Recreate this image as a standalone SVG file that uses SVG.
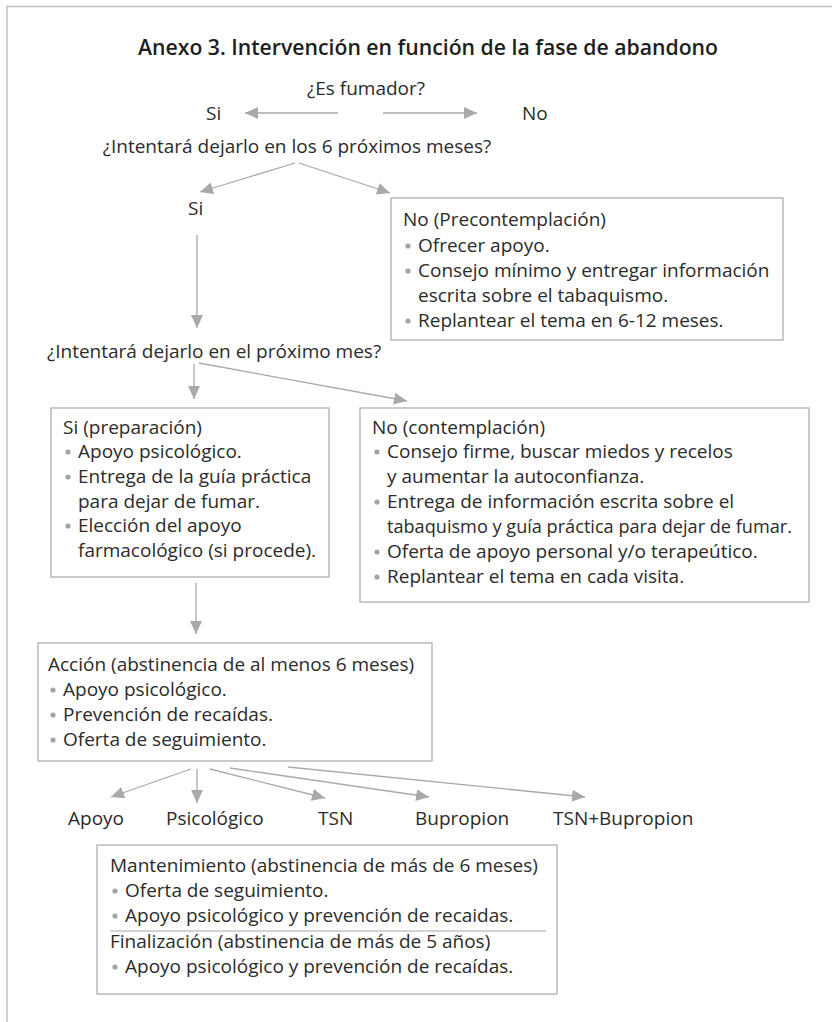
<svg xmlns="http://www.w3.org/2000/svg" width="832" height="1022" viewBox="0 0 832 1022">
<style>
  .t { font-family: "Open Sans", "Noto Sans", "DejaVu Sans", sans-serif; font-size: 19px; fill: #2b2b2b; }
  .title { font-family: "Open Sans", "Noto Sans", "DejaVu Sans", sans-serif; font-size: 21px; font-weight: 600; fill: #1e1e1e; }
  .box { fill: #ffffff; stroke: #b0b0b0; stroke-width: 1.3; }
  .frame { stroke: #c2c2c2; stroke-width: 1.5; fill: none; }
  .arr { stroke: #a9a9a9; stroke-width: 1.3; fill: none; marker-end: url(#ah); }
  .bul { fill: #a3a3a3; }
  .sep { stroke: #a8a8a8; stroke-width: 1.2; }
</style>
<defs>
  <marker id="ah" markerUnits="userSpaceOnUse" markerWidth="14" markerHeight="12" refX="13" refY="6" orient="auto">
    <path d="M0,0 L13,6 L0,12 z" fill="#a9a9a9"/>
  </marker>
</defs>
<rect width="832" height="1022" fill="#ffffff"/>
<g id="frame">
  <line class="frame" x1="6" y1="6.5" x2="832" y2="6.5"/>
  <line class="frame" x1="7" y1="6" x2="7" y2="1022"/>
</g>
<text class="title" x="428" y="55" text-anchor="middle" textLength="580" lengthAdjust="spacingAndGlyphs">Anexo 3. Intervención en función de la fase de abandono</text>

<g id="connectors">
  <line class="arr" x1="338" y1="113" x2="245" y2="113"/>
  <line class="arr" x1="383" y1="113" x2="477" y2="113"/>
  <line class="arr" x1="295" y1="163" x2="200" y2="192"/>
  <line class="arr" x1="299" y1="163" x2="390" y2="193"/>
  <line class="arr" x1="197" y1="235" x2="197" y2="328"/>
  <line class="arr" x1="194" y1="364" x2="194" y2="399"/>
  <line class="arr" x1="199" y1="363" x2="407" y2="401"/>
  <line class="arr" x1="196" y1="583" x2="196" y2="634"/>
  <line class="arr" x1="191" y1="769" x2="111" y2="797"/>
  <line class="arr" x1="197" y1="769" x2="197" y2="803"/>
  <line class="arr" x1="210" y1="769" x2="325" y2="798"/>
  <line class="arr" x1="230" y1="768" x2="429" y2="797"/>
  <line class="arr" x1="288" y1="767" x2="585" y2="797"/>
</g>

<g id="q1">
  <text class="t" x="366" y="95" text-anchor="middle">¿Es fumador?</text>
</g>
<g id="si1"><text class="t" x="206" y="120">Si</text></g>
<g id="no1"><text class="t" x="522" y="120">No</text></g>
<g id="q2">
  <text class="t" x="297" y="153" text-anchor="middle">¿Intentará dejarlo en los 6 próximos meses?</text>
</g>
<g id="si2"><text class="t" x="188" y="215">Si</text></g>

<g id="precontemplacion">
  <rect class="box" x="391" y="198" width="392" height="142"/>
  <text class="t" x="403" y="226">No (Precontemplación)</text>
  <circle class="bul" cx="408" cy="246" r="2.6"/>
  <text class="t" x="418" y="252">Ofrecer apoyo.</text>
  <circle class="bul" cx="408" cy="271" r="2.6"/>
  <text class="t" x="418" y="277">Consejo mínimo y entregar información</text>
  <text class="t" x="418" y="302">escrita sobre el tabaquismo.</text>
  <circle class="bul" cx="408" cy="321" r="2.6"/>
  <text class="t" x="418" y="327">Replantear el tema en 6-12 meses.</text>
</g>

<g id="q3">
  <text class="t" x="47" y="358">¿Intentará dejarlo en el próximo mes?</text>
</g>

<g id="preparacion">
  <rect class="box" x="51" y="408" width="278" height="169"/>
  <text class="t" x="63" y="434">Si (preparación)</text>
  <circle class="bul" cx="68" cy="452" r="2.6"/>
  <text class="t" x="78" y="458">Apoyo psicológico.</text>
  <circle class="bul" cx="68" cy="477" r="2.6"/>
  <text class="t" x="78" y="483">Entrega de la guía práctica</text>
  <text class="t" x="78" y="508">para dejar de fumar.</text>
  <circle class="bul" cx="68" cy="526" r="2.6"/>
  <text class="t" x="78" y="532">Elección del apoyo</text>
  <text class="t" x="78" y="557">farmacológico (si procede).</text>
</g>

<g id="contemplacion">
  <rect class="box" x="360" y="408" width="449" height="194"/>
  <text class="t" x="372" y="434">No (contemplación)</text>
  <circle class="bul" cx="377" cy="452" r="2.6"/>
  <text class="t" x="387" y="458">Consejo firme, buscar miedos y recelos</text>
  <text class="t" x="387" y="483">y aumentar la autoconfianza.</text>
  <circle class="bul" cx="377" cy="502" r="2.6"/>
  <text class="t" x="387" y="508">Entrega de información escrita sobre el</text>
  <text class="t" x="387" y="533" textLength="405" lengthAdjust="spacingAndGlyphs">tabaquismo y guía práctica para dejar de fumar.</text>
  <circle class="bul" cx="377" cy="552" r="2.6"/>
  <text class="t" x="387" y="558">Oferta de apoyo personal y/o terapeútico.</text>
  <circle class="bul" cx="377" cy="577" r="2.6"/>
  <text class="t" x="387" y="583">Replantear el tema en cada visita.</text>
</g>

<g id="accion">
  <rect class="box" x="38" y="643" width="394" height="118"/>
  <text class="t" x="48" y="671">Acción (abstinencia de al menos 6 meses)</text>
  <circle class="bul" cx="53" cy="690" r="2.6"/>
  <text class="t" x="63" y="696">Apoyo psicológico.</text>
  <circle class="bul" cx="53" cy="715" r="2.6"/>
  <text class="t" x="63" y="721">Prevención de recaídas.</text>
  <circle class="bul" cx="53" cy="740" r="2.6"/>
  <text class="t" x="63" y="746">Oferta de seguimiento.</text>
</g>

<g id="apoyo"><text class="t" x="68" y="825">Apoyo</text></g>
<g id="psicologico"><text class="t" x="166" y="825">Psicológico</text></g>
<g id="tsn"><text class="t" x="318" y="825">TSN</text></g>
<g id="bupropion"><text class="t" x="415" y="825">Bupropion</text></g>
<g id="tsnbupropion"><text class="t" x="553" y="825">TSN+Bupropion</text></g>

<g id="mantenimiento">
  <rect class="box" x="97" y="845" width="460" height="149"/>
  <text class="t" x="110" y="872">Mantenimiento (abstinencia de más de 6 meses)</text>
  <circle class="bul" cx="115" cy="891" r="2.6"/>
  <text class="t" x="125" y="897">Oferta de seguimiento.</text>
  <circle class="bul" cx="115" cy="916" r="2.6"/>
  <text class="t" x="125" y="922">Apoyo psicológico y prevención de recaidas.</text>
  <line class="sep" x1="110" y1="931" x2="546" y2="931"/>
  <text class="t" x="110" y="948">Finalización (abstinencia de más de 5 años)</text>
  <circle class="bul" cx="115" cy="967" r="2.6"/>
  <text class="t" x="125" y="973">Apoyo psicológico y prevención de recaídas.</text>
</g>
</svg>
